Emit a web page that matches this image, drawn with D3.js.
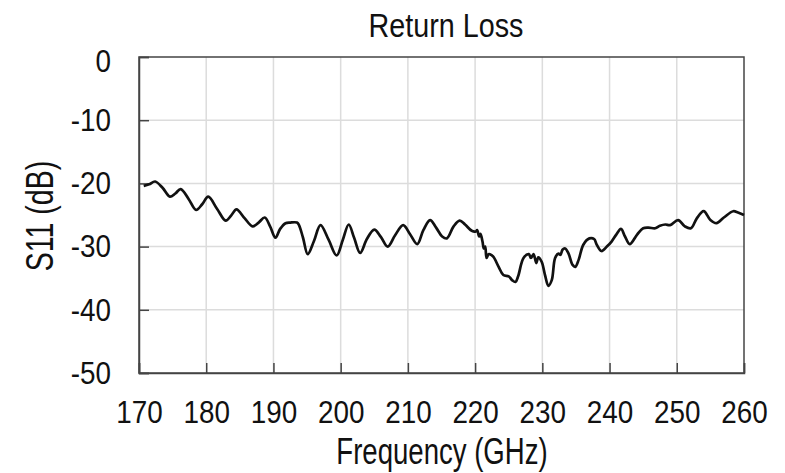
<!DOCTYPE html>
<html>
<head>
<meta charset="utf-8">
<script src="https://cdn.jsdelivr.net/npm/d3@7"></script>
<style>
  html, body { margin: 0; padding: 0; background: #fff; }
  svg { display: block; }
  text { font-family: "Liberation Sans", Arial, sans-serif; fill: #111; }
</style>
</head>
<body>
<svg id="chart" width="785" height="473"></svg>
<script>
const title = "Return Loss";
const xLabel = "Frequency (GHz)";
const yLabel = "S11 (dB)";
const xTicks = [170, 180, 190, 200, 210, 220, 230, 240, 250, 260];
const yTicks = [0, -10, -20, -30, -40, -50];

const freq = [170.7, 171.5, 172.4, 173.5, 174.6, 175.4, 176.2, 177.4, 178.5, 179.4, 180.3, 181.6, 182.9, 183.7, 184.5, 185.7, 186.9, 187.8, 188.7, 189.5, 190.3, 191.0, 191.8, 192.5, 193.5, 193.8, 194.4, 195.1, 196.0, 197.0, 198.2, 199.4, 200.3, 201.2, 202.0, 202.9, 203.9, 205.0, 206.0, 207.0, 208.1, 209.3, 210.3, 211.4, 212.3, 213.3, 214.2, 215.1, 215.8, 216.8, 217.7, 218.5, 219.5, 220.1, 220.3, 220.6, 220.8, 221.1, 221.3, 221.5, 221.7, 222.0, 222.2, 222.7, 223.5, 224.2, 225.0, 225.5, 226.0, 226.4, 227.2, 228.0, 228.3, 228.7, 229.1, 229.4, 229.9, 230.4, 230.9, 231.4, 231.9, 232.4, 232.7, 233.0, 233.4, 233.9, 234.5, 234.9, 235.4, 236.1, 237.0, 237.7, 238.1, 238.8, 239.6, 240.3, 241.0, 241.7, 242.3, 243.0, 244.1, 245.0, 245.8, 246.8, 247.5, 248.3, 249.0, 250.2, 251.2, 252.1, 253.0, 254.0, 255.0, 255.9, 257.0, 258.4, 259.1, 260.0];
const s11 = [-20.4, -20.15, -19.7, -20.7, -22.1, -21.6, -20.9, -22.5, -24.2, -23.3, -22.1, -24.0, -25.9, -25.1, -24.1, -25.5, -26.8, -26.2, -25.4, -26.8, -28.6, -27.2, -26.3, -26.2, -26.2, -26.6, -28.6, -31.2, -29.2, -26.6, -28.9, -31.4, -29.0, -26.5, -28.6, -31.0, -28.8, -27.3, -28.5, -30.0, -28.2, -26.6, -28.0, -29.6, -27.4, -25.8, -27.0, -28.4, -28.7, -26.8, -25.9, -26.5, -27.5, -27.6, -27.4, -28.4, -28.0, -29.2, -30.3, -30.0, -31.8, -31.2, -31.2, -31.6, -33.2, -34.5, -34.7, -35.3, -35.6, -34.7, -31.8, -31.2, -31.8, -31.2, -32.6, -31.7, -32.4, -34.5, -36.2, -35.3, -31.8, -31.1, -31.3, -30.5, -30.3, -31.1, -32.9, -33.2, -32.1, -29.7, -28.7, -28.8, -29.7, -30.7, -30.0, -29.2, -28.1, -27.2, -28.4, -29.6, -28.1, -27.1, -27.0, -27.1, -26.7, -26.5, -26.6, -25.8, -26.8, -27.1, -25.5, -24.4, -25.8, -26.3, -25.4, -24.4, -24.6, -25.0];

const svg = d3.select("#chart");
const m = { left: 139, right: 744, top: 57, bottom: 373 };

const x = d3.scaleLinear().domain([170, 260]).range([m.left, m.right]);
const y = d3.scaleLinear().domain([-50, 0]).range([m.bottom, m.top]);

// grid
svg.append("g").selectAll("line").data(xTicks.slice(1, -1)).join("line")
  .attr("x1", d => x(d)).attr("x2", d => x(d))
  .attr("y1", m.top).attr("y2", m.bottom)
  .attr("stroke", "#dcdcdc").attr("stroke-width", 1.5);
svg.append("g").selectAll("line").data(yTicks.slice(1, -1)).join("line")
  .attr("y1", d => y(d)).attr("y2", d => y(d))
  .attr("x1", m.left).attr("x2", m.right)
  .attr("stroke", "#dcdcdc").attr("stroke-width", 1.5);

// frame
svg.append("rect").attr("x", m.left).attr("y", m.top)
  .attr("width", m.right - m.left).attr("height", m.bottom - m.top)
  .attr("fill", "none").attr("stroke", "#444").attr("stroke-width", 1.5);

// axes (inner ticks)
const xAxis = d3.axisBottom(x).tickValues(xTicks).tickSize(-10).tickPadding(27).tickFormat(d => String(d));
const gx = svg.append("g").attr("transform", `translate(0,${m.bottom})`).call(xAxis);
const yAxis = d3.axisLeft(y).tickValues(yTicks).tickSize(-10).tickPadding(28).tickFormat(d => String(d));
const gy = svg.append("g").attr("transform", `translate(${m.left},0)`).call(yAxis);
[gx, gy].forEach(g => {
  g.select(".domain").attr("stroke", "#444").attr("stroke-width", 1.5);
  g.selectAll(".tick line").attr("stroke", "#444").attr("stroke-width", 1.5);
  g.selectAll(".tick text").attr("font-size", 32).attr("fill", "#111")
    .attr("data-k", 0.87)
    .style("font-family", '"Liberation Sans", Arial, sans-serif');
});
gx.selectAll(".tick text").attr("dy", "0.71em");
gy.selectAll(".tick text").filter(d => d === 0).attr("dy", "0.45em");

// line
const line = d3.line().x((d, i) => x(freq[i])).y(d => y(d)).curve(d3.curveCatmullRom.alpha(0.5));
svg.append("path").datum(s11).attr("d", line)
  .attr("fill", "none").attr("stroke", "#111").attr("stroke-width", 2.7)
  .attr("stroke-linejoin", "round");

// labels
svg.append("text").attr("x", 446).attr("y", 37).attr("text-anchor", "middle")
  .attr("font-size", 34).attr("data-k", 0.845).text(title);
svg.append("text").attr("x", 442).attr("y", 464).attr("text-anchor", "middle")
  .attr("font-size", 37).attr("data-k", 0.745).text(xLabel);
svg.append("text").attr("transform", "translate(53,216) rotate(-90)").attr("text-anchor", "middle")
  .attr("font-size", 38).attr("data-k", 0.75).text(yLabel);

// condense all text to mimic a narrow typeface
svg.selectAll("text").each(function () {
  const k = +(this.getAttribute("data-k") || 0.8);
  const w = this.getComputedTextLength();
  d3.select(this).attr("textLength", w * k).attr("lengthAdjust", "spacingAndGlyphs");
});
</script>
</body>
</html>
